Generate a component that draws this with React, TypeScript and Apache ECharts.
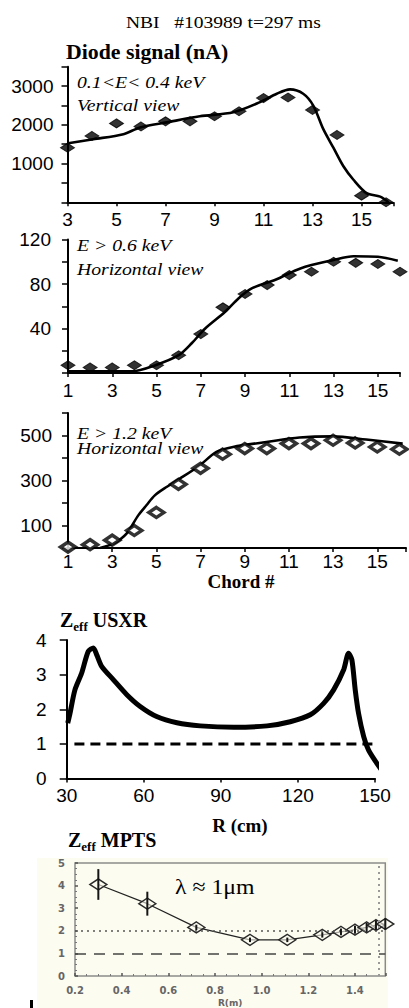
import React, { useEffect, useRef } from "react";
import * as echarts from "echarts";

// ---- Panel 1: 0.1<E<0.4 keV, vertical view ----
const chords1 = [3, 4, 5, 6, 7, 8, 9, 10, 11, 12, 13, 14, 15, 16];
const diode1 = [1410, 1713, 2037, 1958, 2089, 2089, 2220, 2350, 2690, 2706, 2384, 1739, 172, 0];
const fitX1 = [3.03, 4.05, 5.28, 5.96, 7.05, 8.4, 9.77, 10.86, 11.54, 12.08, 12.62, 13.03, 13.44, 13.85, 14.26, 14.67, 15.21, 15.76, 16.1];
const fitY1 = [1522, 1627, 1758, 1932, 2063, 2220, 2324, 2585, 2802, 2915, 2802, 2497, 1888, 1410, 930, 582, 235, 146, 0];

// ---- Panel 2: E > 0.6 keV, horizontal view ----
const chords2 = [1, 2, 3, 4, 5, 6, 7, 8, 9, 10, 11, 12, 13, 14, 15, 16];
const diode2 = [7, 5, 5, 7, 7, 16, 35, 59, 71, 79, 88, 91, 100, 99, 98, 91];
const fitX2 = [1, 2, 3, 3.9, 4.95, 6.0, 6.6, 7.2, 8.1, 8.7, 9.3, 10.4, 11.5, 13, 13.9, 15, 15.9];
const fitY2 = [1.5, 1.5, 1.5, 1.5, 7, 16, 27, 40, 55, 67, 76, 84, 94, 101.6, 105, 104.5, 101];

// ---- Panel 3: E > 1.2 keV, horizontal view ----
const chords3 = [1, 2, 3, 4, 5, 6, 7, 8, 9, 10, 11, 12, 13, 14, 15, 16];
const diode3 = [4, 15, 35, 78, 158, 283, 354, 417, 442, 442, 464, 464, 479, 467, 449, 439];
const fitX3 = [2.45, 3.05, 3.65, 4.18, 4.55, 4.93, 5.46, 6.06, 6.96, 7.72, 8.47, 9.98, 11.48, 13, 14.5, 16.15];
const fitY3 = [0, 19, 64, 145, 190, 234, 271, 308, 367, 427, 449, 471, 491, 496, 482, 464];

// ---- Panel 4: Zeff USXR ----
const rUSXR = [30.4, 31.2, 33.2, 35.8, 38.4, 40.4, 41.7, 43.6, 48.2, 53.4, 58.6, 65, 72.9, 82, 95, 108, 117, 124.8, 130, 133.9, 137.8, 139.7, 141, 142.3, 143.6, 145.6, 147.5, 150.8, 154];
const zUSXR = [1.6, 1.85, 2.56, 3.04, 3.67, 3.77, 3.57, 3.24, 2.85, 2.42, 2.08, 1.79, 1.61, 1.52, 1.48, 1.52, 1.64, 1.84, 2.17, 2.56, 3.14, 3.62, 3.43, 2.56, 1.88, 1.21, 0.82, 0.43, 0.1];
const refUSXR_R = [33, 149];
const refUSXR_Z = [1, 1];

// ---- Panel 5: Zeff MPTS ----
const rMPTS = [0.30, 0.51, 0.72, 0.95, 1.11, 1.26, 1.34, 1.40, 1.45, 1.49, 1.53];
const zMPTS = [4.05, 3.2, 2.15, 1.6, 1.6, 1.82, 1.95, 2.05, 2.15, 2.25, 2.3];
const errMPTS = [0.68, 0.53, 0.12, 0.1, 0.1, 0.12, 0.15, 0.18, 0.2, 0.22, 0.25];

const zip = (a: number[], b: number[]) => a.map((v, i) => [v, b[i]]);

const SANS = '"Liberation Sans", Arial, sans-serif';
const SERIF = '"Liberation Serif", "Times New Roman", serif';

const oddLabel = (v: number) => (Number.isInteger(v) && Math.abs(v % 2) === 1 ? String(v) : "");

function chordXAxis(gridIndex: number, min: number, max: number, extra: any = {}) {
  return {
    type: "value",
    gridIndex,
    min,
    max,
    interval: 2,
    axisLine: { show: true, lineStyle: { color: "#000", width: 2 } },
    axisTick: { show: true, length: 4, lineStyle: { color: "#000", width: 1.5 } },
    axisLabel: { formatter: oddLabel, color: "#000", fontFamily: SANS, fontSize: 19, margin: 8 },
    splitLine: { show: false },
    ...extra,
  };
}

function valYAxis(gridIndex: number, max: number, interval: number, fmt: (v: number) => string, margin: number) {
  return {
    type: "value",
    gridIndex,
    min: 0,
    max,
    interval,
    axisLine: { show: true, lineStyle: { color: "#000", width: 2 } },
    axisTick: { show: true, length: 6, lineStyle: { color: "#000", width: 1.5 } },
    axisLabel: { formatter: fmt, color: "#000", fontFamily: SANS, fontSize: 19, margin },
    splitLine: { show: false },
  };
}

function fitSeries(idx: number, xs: number[], ys: number[]) {
  return {
    type: "line",
    xAxisIndex: idx,
    yAxisIndex: idx,
    data: zip(xs, ys),
    smooth: 0.3,
    showSymbol: false,
    symbol: "none",
    lineStyle: { color: "#000", width: 2.6 },
    z: 3,
  };
}

function pointSeries(idx: number, xs: number[], ys: number[], size: number[], fill: string, border: number) {
  return {
    type: "scatter",
    xAxisIndex: idx,
    yAxisIndex: idx,
    data: zip(xs, ys),
    symbol: "diamond",
    symbolSize: size,
    itemStyle: { color: fill, borderColor: "#000", borderWidth: border },
    z: 4,
  };
}

function italicText(x: number, y: number, text: string) {
  return {
    type: "text",
    x,
    y,
    scaleX: 1.16,
    style: { text, font: `italic 17px ${SERIF}`, fill: "#000", verticalAlign: "middle", textAlign: "left" },
  };
}

export default function App() {
  const ref = useRef<HTMLDivElement>(null);

  useEffect(() => {
    if (!ref.current) return;
    const chart = echarts.init(ref.current, null, { renderer: "svg" });

    const option: any = {
      animation: false,
      backgroundColor: "#fff",
      grid: [
        { left: 67.5, top: 66.7, width: 325.9, height: 135.6 },
        { left: 68, top: 239.5, width: 332, height: 133.5 },
        { left: 68, top: 413, width: 338.6, height: 135 },
        { left: 66.7, top: 640, width: 308.3, height: 138.5 },
        { left: 75, top: 863, width: 310.3, height: 116, show: true, borderColor: "#8a8a8a", borderWidth: 1.5, backgroundColor: "transparent" },
      ],
      xAxis: [
        chordXAxis(0, 3, 16.3),
        chordXAxis(1, 1, 16),
        chordXAxis(2, 1, 16.3, {
          name: "Chord #",
          nameLocation: "middle",
          nameGap: 23,
          nameTextStyle: { fontFamily: SERIF, fontWeight: "bold", fontSize: 19, color: "#000", padding: [0, 0, 0, 8] },
          axisLabel: { formatter: oddLabel, color: "#000", fontFamily: SANS, fontSize: 19, margin: 4 },
        }),
        {
          type: "value",
          gridIndex: 3,
          min: 30,
          max: 150,
          interval: 30,
          name: "R (cm)",
          nameLocation: "middle",
          nameGap: 37,
          nameTextStyle: { fontFamily: SERIF, fontWeight: "bold", fontSize: 19, color: "#000", padding: [0, 0, 0, 38] },
          axisLine: { show: true, lineStyle: { color: "#000", width: 2 } },
          axisTick: { show: true, length: 4, lineStyle: { color: "#000", width: 1.5 } },
          axisLabel: { color: "#000", fontFamily: SANS, fontSize: 19, margin: 7 },
          splitLine: { show: false },
        },
        {
          type: "value",
          gridIndex: 4,
          min: 0.2,
          max: 1.53,
          interval: 0.2,
          name: "R(m)",
          nameLocation: "middle",
          nameGap: 22,
          nameTextStyle: { fontFamily: '"DejaVu Sans", sans-serif', fontWeight: "bold", fontSize: 9, color: "#666" },
          axisLine: { show: false },
          axisTick: { show: true, inside: true, length: 3, lineStyle: { color: "#555", width: 1.5 } },
          minorTick: { show: true, splitNumber: 4, length: 2, lineStyle: { color: "#777" } },
          axisLabel: {
            formatter: (v: number) => (Math.abs(v * 5 - Math.round(v * 5)) < 1e-6 ? v.toFixed(1) : ""),
            color: "#666",
            fontFamily: '"DejaVu Sans", sans-serif',
            fontWeight: "bold",
            fontSize: 10,
            margin: 9,
          },
          splitLine: { show: false },
        },
      ],
      yAxis: [
        valYAxis(0, 3500, 500, (v) => (v > 0 && v % 1000 === 0 ? String(v) : ""), 14),
        valYAxis(1, 120, 20, (v) => (v > 0 && v % 40 === 0 ? String(v) : ""), 17),
        valYAxis(2, 600, 100, (v) => (v % 200 === 100 ? String(v) : ""), 16),
        {
          ...valYAxis(3, 4, 1, (v) => String(v), 20),
          axisTick: { show: true, length: 7, lineStyle: { color: "#000", width: 1.5 } },
          axisLabel: { color: "#000", fontFamily: SANS, fontSize: 19, margin: 20 },
        },
        {
          type: "value",
          gridIndex: 4,
          min: 0,
          max: 5,
          interval: 1,
          axisLine: { show: false },
          axisTick: { show: true, inside: true, length: 3, lineStyle: { color: "#555", width: 1.5 } },
          minorTick: { show: true, splitNumber: 4, length: 2, lineStyle: { color: "#777" } },
          axisLabel: { color: "#666", fontFamily: '"DejaVu Sans", sans-serif', fontWeight: "bold", fontSize: 10, margin: 10 },
          splitLine: { show: false },
        },
      ],
      series: [
        fitSeries(0, fitX1, fitY1),
        pointSeries(0, chords1, diode1, [14, 9], "#000", 1),
        fitSeries(1, fitX2, fitY2),
        pointSeries(1, chords2, diode2, [14, 9], "#000", 1),
        fitSeries(2, fitX3, fitY3),
        pointSeries(2, chords3, diode3, [15, 10], "#fff", 3.6),
        {
          type: "line",
          xAxisIndex: 3,
          yAxisIndex: 3,
          data: zip(rUSXR, zUSXR),
          smooth: 0.25,
          showSymbol: false,
          symbol: "none",
          clip: false,
          lineStyle: { color: "#000", width: 5 },
          z: 3,
        },
        {
          type: "line",
          xAxisIndex: 3,
          yAxisIndex: 3,
          data: zip(refUSXR_R, refUSXR_Z),
          showSymbol: false,
          symbol: "none",
          lineStyle: { color: "#000", width: 3, type: [10, 6] },
          z: 2,
        },
        {
          type: "custom",
          xAxisIndex: 4,
          yAxisIndex: 4,
          clip: false,
          data: rMPTS.map((r, i) => [r, zMPTS[i] - errMPTS[i], zMPTS[i] + errMPTS[i]]),
          encode: { x: 0, y: [1, 2] },
          renderItem: (params: any, api: any) => {
            const p1 = api.coord([api.value(0), api.value(1)]);
            const p2 = api.coord([api.value(0), api.value(2)]);
            return {
              type: "line",
              shape: { x1: p1[0], y1: p1[1], x2: p2[0], y2: p2[1] },
              style: { stroke: "#151515", lineWidth: 2 },
            };
          },
          z: 5,
        },
        {
          type: "line",
          xAxisIndex: 4,
          yAxisIndex: 4,
          data: zip(rMPTS, zMPTS),
          clip: false,
          symbol: "diamond",
          symbolSize: [17, 11],
          itemStyle: { color: "rgba(253,252,240,0.6)", borderColor: "#2a2a2a", borderWidth: 1.5 },
          lineStyle: { color: "#222", width: 1.2 },
          markLine: {
            silent: true,
            symbol: "none",
            label: { show: false },
            data: [
              { yAxis: 2, lineStyle: { color: "#555", width: 1.5, type: [2, 4] } },
              { yAxis: 1, lineStyle: { color: "#444", width: 1.5, type: [11, 8] } },
              { xAxis: 1.505, lineStyle: { color: "#999", width: 2, type: [2, 4] } },
            ],
          },
          z: 4,
        },
      ],
      graphic: [
        { type: "rect", z: -10, shape: { x: 37, y: 858, width: 351, height: 150 }, style: { fill: "#fdfcf0" } },
        { type: "rect", shape: { x: 30, y: 1000, width: 3, height: 8 }, style: { fill: "#000" } },
        {
          type: "text",
          x: 126,
          y: 22,
          scaleX: 1.15,
          style: { text: "NBI   #103989 t=297 ms", font: `17px ${SERIF}`, fill: "#000", verticalAlign: "middle" },
        },
        {
          type: "text",
          x: 66,
          y: 52,
          scaleX: 1.09,
          style: { text: "Diode signal (nA)", font: `bold 20px ${SERIF}`, fill: "#000", verticalAlign: "middle" },
        },
        italicText(77, 82, "0.1<E< 0.4 keV"),
        italicText(77, 105, "Vertical view"),
        italicText(77, 245, "E > 0.6 keV"),
        italicText(77, 269, "Horizontal view"),
        italicText(77, 433, "E > 1.2 keV"),
        italicText(77, 448, "Horizontal view"),
        {
          type: "text",
          x: 60,
          y: 620,
          style: {
            text: "{a|Z}{b|eff}{a| USXR}",
            fill: "#000",
            verticalAlign: "middle",
            rich: {
              a: { fontFamily: SERIF, fontWeight: "bold", fontSize: 20, fill: "#000" },
              b: { fontFamily: SERIF, fontWeight: "bold", fontSize: 13, fill: "#000", padding: [12, 0, 0, 0] },
            },
          },
        },
        {
          type: "text",
          x: 68,
          y: 840,
          style: {
            text: "{a|Z}{b|eff}{a| MPTS}",
            fill: "#000",
            verticalAlign: "middle",
            rich: {
              a: { fontFamily: SERIF, fontWeight: "bold", fontSize: 20, fill: "#000" },
              b: { fontFamily: SERIF, fontWeight: "bold", fontSize: 13, fill: "#000", padding: [12, 0, 0, 0] },
            },
          },
        },
        {
          type: "text",
          x: 175,
          y: 887,
          scaleX: 1.08,
          style: { text: "λ ≈ 1μm", font: `22px ${SERIF}`, fill: "#000", verticalAlign: "middle" },
        },
      ],
    };

    chart.setOption(option);
    return () => chart.dispose();
  }, []);

  return <div ref={ref} style={{ position: "absolute", left: 0, top: 0, width: 409, height: 1008 }} />;
}
